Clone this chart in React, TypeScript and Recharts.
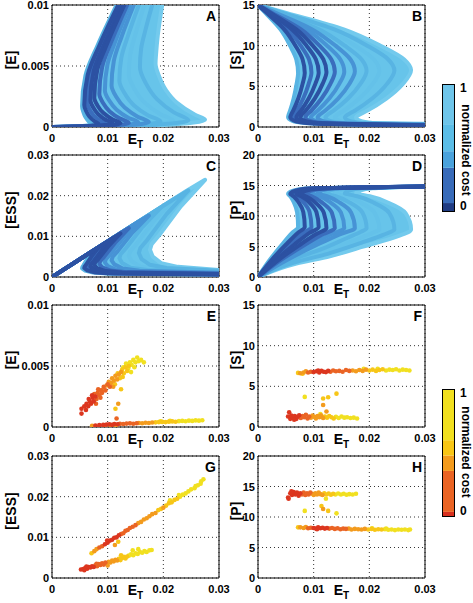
import React from 'react';
import { ScatterChart, Scatter, XAxis, YAxis, CartesianGrid, ReferenceArea, Label, BarChart, Bar, Curve } from 'recharts';

type Pt = [number, number];

const FONT = '"Liberation Sans", Arial, Helvetica, sans-serif';

// ---------- ticks ----------
const xTicks = [0, 0.01, 0.02, 0.03];
const yTicksA = [0, 0.005, 0.01];
const yTicksB = [0, 5, 10, 15];
const yTicksC = [0, 0.01, 0.02, 0.03];
const yTicksD = [0, 5, 10, 15, 20];

// ---------- colours ----------
const blueShades = ['#2c51a2', '#3a6dbd', '#4793d5', '#58b4e3', '#64c1e9', '#73caed'];
const curveShade = [3, 0, 1, 0, 0, 1, 2, 2, 3, 4, 3, 5];
const envelopeBlue = '#67c4ea';
const warmShades = ['#dc361f', '#ea6424', '#f39b1d', '#f7c617', '#f1e020'];
const blueBarSegments = [0.07, 0.275, 0.13, 0.205, 0.32];
const blueBarColors = ['#1f3b82', '#386bb9', '#4aa2dc', '#5bbde7', '#6ec5ea'];
const warmBarSegments = [0.04, 0.32, 0.12, 0.12, 0.4];
const warmBarColors = ['#d8301f', '#ea6424', '#f39b1d', '#f8c616', '#f1e020'];

// ---------- panel A: [E] vs ET ----------
const envelopeA: Pt[] = [[.0116,.01],[.0082,.0067],[.006,.0042],[.0054,.0017],[.00562,.00125],[.00603,.0008],[.00666,.00043],[.0072,.0002],[.005,.00007],[0,0],[.0193,.00014],[.0275,.0006],[.0257,.001],[.0224,.002],[.0205,.003],[.0192,.0042],[.0186,.0052],[.0187,.006],[.019,.0075],[.0198,.01]];
const curvesA: Pt[][] = [
  [[0,0],[.005,.00007],[.0072,.0002],[.00666,.00043],[.00603,.0008],[.00562,.00125],[.0054,.0017],[.006,.0042],[.0082,.0067],[.0116,.01]],
  [[0,0],[.0059,.00007],[.0084,.00023],[.00762,.00047],[.00671,.00086],[.00611,.00133],[.0058,.0018],[.00641,.00426],[.00855,.00672],[.0119,.01]],
  [[0,0],[.0067,.00007],[.0096,.00025],[.00861,.00051],[.00746,.00095],[.0067,.00148],[.0063,.002],[.00689,.0044],[.00896,.0068],[.0122,.01]],
  [[0,0],[.0076,.00008],[.0109,.00028],[.0097,.00057],[.0083,.00105],[.00738,.00162],[.0069,.0022],[.00747,.00454],[.00947,.00688],[.0126,.01]],
  [[0,0],[.0086,.00008],[.0123,.0003],[.01089,.00062],[.00925,.00114],[.00816,.00177],[.0076,.0024],[.00814,.00468],[.01003,.00696],[.013,.01]],
  [[0,0],[.0097,.00009],[.0138,.00033],[.01221,.00069],[.01036,.00128],[.00914,.00199],[.0085,.0027],[.009,.00489],[.01075,.00708],[.0135,.01]],
  [[0,0],[.0109,.0001],[.0155,.00037],[.0137,.00076],[.0116,.00142],[.01022,.00221],[.0095,.003],[.00995,.0051],[.01153,.0072],[.014,.01]],
  [[0,0],[.0122,.0001],[.0174,.0004],[.01539,.00085],[.01305,.0016],[.0115,.0025],[.0107,.0034],[.0111,.0054],[.0125,.0074],[.0147,.01]],
  [[0,0],[.0137,.00011],[.0195,.00045],[.01728,.00095],[.01469,.00179],[.01299,.0028],[.0121,.0038],[.01245,.00566],[.01368,.00752],[.0156,.01]],
  [[0,0],[.0153,.00012],[.0218,.0005],[.0194,.00107],[.0166,.00202],[.01476,.00316],[.0138,.0043],[.01408,.006],[.01506,.00772],[.0166,.01]],
  [[0,0],[.0172,.00013],[.0245,.00055],[.02189,.0012],[.01885,.00229],[.01684,.0036],[.0158,.0049],[.01602,.00643],[.01679,.00796],[.018,.01]],
  [[0,0],[.0193,.00014],[.0275,.0006],[.0257,.001],[.0224,.002],[.0205,.003],[.0192,.0042],[.0186,.0052],[.0187,.006],[.019,.0075],[.0198,.01]],
];

// ---------- panel B: [S] vs ET ----------
const envelopeB: Pt[] = [[0,15],[.00523,14],[.0154,12],[.022,10],[.02626,8.3],[.0275,7],[.02602,5.3],[.02305,3.5],[.01958,2],[.0179,1.4],[.0176,1.2],[.0184,.75],[.0206,.5],[.03,.4],[.03,.15],[.0084,.5],[.0062,.75],[.0054,1.2],[.00545,1.4],[.00576,2],[.0064,3.5],[.00693,5.3],[.0072,6.6],[.00688,8.3],[.00576,10],[.00403,12],[.00137,14]];
const curvesB: Pt[][] = [
  [[0,15],[.00137,14],[.00403,12],[.00576,10],[.00688,8.3],[.0072,6.6],[.00693,5.3],[.0064,3.5],[.00576,2],[.00545,1.4],[.0054,1.2],[.0062,.75],[.0084,.5],[.03,.15]],
  [[0,15],[.0016,14],[.0047,12],[.00672,10],[.00802,8.3],[.0084,6.65],[.00801,5.3],[.00723,3.5],[.00632,2],[.00588,1.4],[.0058,1.2],[.0066,.75],[.0088,.5],[.03,.17]],
  [[0,15],[.00182,14],[.00538,12],[.00768,10],[.00917,8.3],[.0096,6.7],[.0091,5.3],[.00812,3.5],[.00696,2],[.0064,1.4],[.0063,1.2],[.0071,.75],[.0093,.5],[.03,.19]],
  [[0,15],[.00207,14],[.0061,12],[.00872,10],[.01041,8.3],[.0109,6.7],[.0103,5.3],[.0091,3.5],[.0077,2],[.00702,1.4],[.0069,1.2],[.0077,.75],[.0099,.5],[.03,.21]],
  [[0,15],[.00234,14],[.00689,12],[.00984,10],[.01175,8.3],[.0123,6.75],[.0116,5.3],[.01019,3.5],[.00854,2],[.00774,1.4],[.0076,1.2],[.0084,.75],[.0106,.5],[.03,.23]],
  [[0,15],[.00262,14],[.00773,12],[.01104,10],[.01318,8.3],[.0138,6.8],[.013,5.3],[.01142,3.5],[.00956,2],[.00866,1.4],[.0085,1.2],[.0093,.75],[.0115,.5],[.03,.25]],
  [[0,15],[.00295,14],[.00868,12],[.0124,10],[.0148,8.3],[.0155,6.8],[.0146,5.3],[.0128,3.5],[.0107,2],[.00968,1.4],[.0095,1.2],[.0103,.75],[.0125,.5],[.03,.27]],
  [[0,15],[.00331,14],[.00974,12],[.01392,10],[.01662,8.3],[.0174,6.85],[.0164,5.3],[.01439,3.5],[.01204,2],[.0109,1.4],[.0107,1.2],[.0115,.75],[.0137,.5],[.03,.29]],
  [[0,15],[.00371,14],[.01092,12],[.0156,10],[.01862,8.3],[.0195,6.9],[.01839,5.3],[.01617,3.5],[.01358,2],[.01232,1.4],[.0121,1.2],[.0129,.75],[.0151,.5],[.03,.32]],
  [[0,15],[.00414,14],[.01221,12],[.01744,10],[.02082,8.3],[.0218,6.9],[.0206,5.3],[.0182,3.5],[.0154,2],[.01404,1.4],[.0138,1.2],[.0146,.75],[.0168,.5],[.03,.35]],
  [[0,15],[.00466,14],[.01372,12],[.0196,10],[.0234,8.3],[.0245,6.95],[.02317,5.3],[.0205,3.5],[.01738,2],[.01587,1.4],[.0156,1.2],[.0164,.75],[.0186,.5],[.03,.38]],
  [[0,15],[.00523,14],[.0154,12],[.022,10],[.02626,8.3],[.0275,7],[.02602,5.3],[.02305,3.5],[.01958,2],[.0179,1.4],[.0176,1.2],[.0184,.75],[.0206,.5],[.03,.4]],
];

// ---------- panel C: [ESS] vs ET ----------
const envelopeC: Pt[] = [[0,0],[.0242,.0212],[.0275,.0239],[.02314,.01736],[.01918,.01014],[.0179,.00808],[.0176,.0067],[.0181,.005],[.0196,.0034],[.0226,.0025],[.03,.0017],[.03,.00055],[.0104,.0008],[.0074,.0011],[.0059,.0016],[.0054,.0021],[.00545,.00244],[.00569,.00294],[.0064,.0047],[.0072,.0063]];
const curvesC: Pt[][] = [
  [[0,0],[.00634,.00554],[.0072,.0063],[.0064,.0047],[.00569,.00294],[.00545,.00244],[.0054,.0021],[.0059,.0016],[.0074,.0011],[.0104,.0008],[.03,.00055]],
  [[0,0],[.0074,.00647],[.0084,.0073],[.00726,.00536],[.00622,.00322],[.00588,.00261],[.0058,.0022],[.0063,.00165],[.0078,.0011],[.0108,.00084],[.03,.0006]],
  [[0,0],[.00845,.00739],[.0096,.0084],[.00815,.00612],[.00683,.0036],[.0064,.00288],[.0063,.0024],[.0068,.0018],[.0083,.0012],[.0113,.00091],[.03,.00062]],
  [[0,0],[.0096,.0084],[.0109,.0095],[.00914,.00688],[.00754,.00398],[.00702,.00315],[.0069,.0026],[.0074,.00195],[.0089,.0013],[.0119,.00099],[.03,.00068]],
  [[0,0],[.01082,.00947],[.0123,.0107],[.01023,.00774],[.00835,.00446],[.00774,.00352],[.0076,.0029],[.0081,.0022],[.0096,.00145],[.0126,.0011],[.03,.00075]],
  [[0,0],[.01214,.01062],[.0138,.012],[.01147,.00866],[.00935,.00496],[.00866,.0039],[.0085,.0032],[.009,.0024],[.0105,.0016],[.0135,.0012],[.03,.00083]],
  [[0,0],[.01364,.01194],[.0155,.0135],[.01286,.00974],[.01046,.00558],[.00968,.00439],[.0095,.0036],[.01,.0027],[.0115,.0018],[.0145,.00137],[.03,.00094]],
  [[0,0],[.01531,.0134],[.0174,.0151],[.01445,.01092],[.01177,.0063],[.0109,.00498],[.0107,.0041],[.0112,.0031],[.0127,.0021],[.0157,.00156],[.03,.00107]],
  [[0,0],[.01716,.015],[.0195,.017],[.01624,.01229],[.01328,.00708],[.01232,.00559],[.0121,.0046],[.0126,.00345],[.0141,.0023],[.0171,.00175],[.03,.0012]],
  [[0,0],[.01918,.01678],[.0218,.019],[.01828,.01376],[.01508,.00796],[.01404,.0063],[.0138,.0052],[.0143,.0039],[.0158,.0026],[.0188,.002],[.03,.00135]],
  [[0,0],[.02156,.01887],[.0245,.0213],[.02058,.01545],[.01702,.00898],[.01587,.00713],[.0156,.0059],[.0161,.0044],[.0176,.003],[.0206,.0022],[.03,.00153]],
  [[0,0],[.0242,.0212],[.0275,.0239],[.02314,.01736],[.01918,.01014],[.0179,.00808],[.0176,.0067],[.0181,.005],[.0196,.0034],[.0226,.0025],[.03,.0017]],
];

// ---------- panel D: [P] vs ET ----------
const envelopeD: Pt[] = [[0,0],[.0069,2.2],[.0129,3.4],[.0189,5],[.0249,6.6],[.0275,7.8],[.02651,10.46],[.02354,12.11],[.02008,13.23],[.01819,13.58],[.0176,13.7],[.0184,14.2],[.0206,14.55],[.03,14.85],[.0084,14.5],[.0062,14.1],[.0054,13.6],[.00551,13.49],[.00585,13.17],[.00648,12.14],[.00702,10.63],[.0072,8.2],[.00612,7.22],[.00432,5.33],[.00216,2.87]];
const curvesD: Pt[][] = [
  [[0,0],[.00216,2.87],[.00432,5.33],[.00612,7.22],[.0072,8.2],[.00702,10.63],[.00648,12.14],[.00585,13.17],[.00551,13.49],[.0054,13.6],[.0062,14.1],[.0084,14.5],[.03,14.85]],
  [[0,0],[.00252,2.87],[.00504,5.33],[.00714,7.22],[.0084,8.2],[.00814,10.63],[.00736,12.14],[.00645,13.17],[.00596,13.49],[.0058,13.6],[.0066,14.1],[.0088,14.5],[.03,14.85]],
  [[0,0],[.00288,2.87],[.00576,5.33],[.00816,7.22],[.0096,8.2],[.00927,10.63],[.00828,12.14],[.00713,13.17],[.0065,13.49],[.0063,13.6],[.0071,14.1],[.0093,14.5],[.03,14.85]],
  [[0,0],[.00327,2.87],[.00654,5.33],[.00927,7.22],[.0109,8.2],[.0105,10.63],[.0093,12.14],[.0079,13.17],[.00714,13.49],[.0069,13.6],[.0077,14.1],[.0099,14.5],[.03,14.85]],
  [[0,0],[.00369,2.8],[.00738,5.2],[.01046,7.04],[.0123,8],[.01183,10.52],[.01042,12.09],[.00878,13.15],[.00788,13.49],[.0076,13.6],[.0084,14.1],[.0106,14.5],[.03,14.85]],
  [[0,0],[.00414,2.8],[.00828,5.2],[.01173,7.04],[.0138,8],[.01327,10.52],[.01168,12.09],[.00983,13.15],[.00882,13.49],[.0085,13.6],[.0093,14.1],[.0115,14.5],[.03,14.85]],
  [[0,0],[.00465,2.8],[.0093,5.2],[.01318,7.04],[.0155,8],[.0149,10.57],[.0131,12.16],[.011,13.24],[.00986,13.59],[.0095,13.7],[.0103,14.2],[.0125,14.55],[.03,14.85]],
  [[0,0],[.00522,2.8],[.01044,5.2],[.01479,7.04],[.0174,8],[.01673,10.57],[.01472,12.16],[.01238,13.24],[.0111,13.59],[.0107,13.7],[.0115,14.2],[.0137,14.55],[.03,14.85]],
  [[0,0],[.0058,2.75],[.0115,4.6],[.016,6.4],[.0185,7.4],[.0195,8],[.01876,10.57],[.01654,12.16],[.01395,13.24],[.01254,13.59],[.0121,13.7],[.0129,14.2],[.0151,14.55],[.03,14.85]],
  [[0,0],[.0062,2.6],[.0122,4.2],[.0172,6],[.0205,7.2],[.0218,7.8],[.021,10.46],[.0186,12.11],[.0158,13.23],[.01428,13.58],[.0138,13.7],[.0146,14.2],[.0168,14.55],[.03,14.85]],
  [[0,0],[.0066,2.4],[.0125,3.8],[.0185,5.6],[.0225,6.9],[.0245,7.8],[.02361,10.46],[.02094,12.11],[.01783,13.23],[.01613,13.58],[.0156,13.7],[.0164,14.2],[.0186,14.55],[.03,14.85]],
  [[0,0],[.0069,2.2],[.0129,3.4],[.0189,5],[.0249,6.6],[.0275,7.8],[.02651,10.46],[.02354,12.11],[.02008,13.23],[.01819,13.58],[.0176,13.7],[.0184,14.2],[.0206,14.55],[.03,14.85]],
];

// ---------- panels E-H: bifurcation points, grouped by cost colour (red -> yellow) ----------
const dotsE: Pt[][] = [
  [[.0053,.0015],[.0058,.0017],[.0062,.0019],[.0065,.0017],[.0068,.0021],[.007,.0019],[.0066,.0023],[.0073,.0024],[.0075,.0021],[.0061,.0014],[.0078,.0025],[.0072,.0026],[.0053,.0011],
   [.0078,.00012],[.0085,.00015],[.0092,.00018],[.0098,.0002],[.0103,.00022],[.0108,.00018],[.0112,.00024],[.0118,.00022]],
  [[.0076,.0027],[.008,.0023],[.0082,.0028],[.0085,.0026],[.0088,.003],[.0083,.0031],[.009,.0028],[.0093,.0033],[.0087,.0024],[.0096,.003],[.01,.0035],[.0104,.0033],[.0079,.0019],[.0116,.0007],
   [.0095,.00012],[.0122,.00026],[.0128,.00024],[.0134,.00028],[.014,.0003],[.0146,.00027],[.0152,.00031]],
  [[.0092,.0031],[.0098,.0034],[.0102,.0037],[.0106,.0036],[.0108,.004],[.0111,.0038],[.0114,.0042],[.0117,.0039],[.012,.0043],[.011,.0033],[.0124,.0045],[.0119,.0019],
   [.0072,.0001],[.0105,.00014],[.0156,.00033],[.0162,.00031],[.0168,.00035],[.0174,.00033],[.018,.00037],[.0115,.00016]],
  [[.0113,.0035],[.0118,.0044],[.0122,.004],[.0126,.0047],[.0129,.0044],[.0132,.0049],[.0135,.0046],[.0127,.0041],[.0138,.005],[.0124,.0031],[.0114,.0015],
   [.0186,.00038],[.0192,.0004],[.0198,.00042],[.0204,.0004],[.021,.00044],[.0216,.00046],[.0222,.00043]],
  [[.0128,.0049],[.0133,.0052],[.0137,.0048],[.014,.0053],[.0143,.0051],[.0146,.0055],[.015,.0053],[.0153,.0057],[.0156,.0054],[.016,.0055],[.0165,.0053],[.0148,.0049],[.0142,.0045],
   [.0228,.00048],[.0234,.0005],[.024,.00047],[.0246,.00052],[.0252,.0005],[.0258,.00054],[.0264,.00052],[.027,.00055],[.0212,.0005],[.0195,.00047]],
];
const dotsF: Pt[][] = [
  [[.01,6.75],[.0105,6.85],[.011,6.7],[.0114,6.9],[.0118,6.8],[.0122,6.75],[.0126,6.9],[.0108,6.95],
   [.0054,1.3],[.0058,1],[.006,1.4],[.0063,1.15],[.0066,1.35],[.0069,1],[.0071,1.25],[.0074,1.45],[.0056,1.8],[.0065,.9]],
  [[.009,6.7],[.0095,6.8],[.013,6.8],[.0135,6.95],[.014,6.85],[.0146,6.9],[.0152,6.8],[.0158,7],[.0164,6.9],
   [.0077,1.1],[.008,1.35],[.0083,1.2],[.0086,1.5],[.0089,1.05],[.0092,1.3]],
  [[.0076,6.6],[.0082,6.7],[.0086,6.85],[.017,6.95],[.0176,6.85],[.0182,7],[.0188,6.9],[.0194,7.05],
   [.0095,1.15],[.0098,1.4],[.0101,1.25],[.0104,1.05],[.0107,1.35],[.011,1.2],[.0113,1.45],[.0117,1.1],[.0123,1.9],[.0117,2.7]],
  [[.0072,6.65],[.008,6.55],[.02,6.95],[.0206,7.05],[.0212,6.9],[.0218,7],[.0224,7.1],
   [.012,1.3],[.0124,1.15],[.0128,1.35],[.0132,1.2],[.0136,1.05],[.0126,3.65],[.0117,3.5],[.0141,4.1]],
  [[.023,6.95],[.0236,7.05],[.0242,7],[.0248,7.1],[.0254,6.95],[.026,7.05],[.0266,7],[.0272,6.95],[.0215,7.15],[.019,7.15],
   [.014,1.25],[.0145,1.1],[.015,1.3],[.0155,1.15],[.016,1.2],[.0166,1.1],[.0172,1.15],[.0178,1.05],[.0084,3.7],[.0112,1.6]],
];
const dotsG: Pt[][] = [
  [[.0095,.0083],[.01,.0087],[.0104,.0092],[.0108,.0094],[.0112,.0099],[.0116,.01],[.0099,.0092],[.012,.0105],
   [.0052,.0021],[.0056,.0022],[.006,.0025],[.0063,.0023],[.0066,.0027],[.0069,.0026],[.0072,.0029],[.0075,.0027],[.0062,.0028],[.0058,.0019]],
  [[.0085,.0075],[.009,.0078],[.0124,.0108],[.0128,.011],[.0132,.0116],[.0136,.0118],[.014,.0123],[.0145,.0126],[.015,.013],
   [.0078,.0031],[.0081,.0029],[.0084,.0034],[.0087,.0032],[.009,.0036],[.0093,.0033],[.0096,.0038],[.008,.0035]],
  [[.0076,.0066],[.008,.0071],[.0155,.0135],[.016,.0138],[.0165,.0144],[.017,.0147],[.0175,.0152],[.018,.0157],[.0186,.016],[.02,.0173],
   [.0099,.0036],[.0102,.004],[.0105,.0038],[.0108,.0043],[.0111,.0041],[.0114,.0045],[.01,.0031],[.0117,.0043],[.0113,.0081]],
  [[.0071,.0061],[.0191,.0167],[.0196,.017],[.0205,.0178],[.021,.0184],[.0215,.0186],[.022,.0192],[.0225,.0195],
   [.012,.0047],[.0123,.0044],[.0126,.0049],[.0129,.0052],[.0132,.0048],[.0135,.0053],[.0124,.0056],[.0119,.0089]],
  [[.023,.02],[.0235,.0205],[.024,.0208],[.0245,.0213],[.025,.0218],[.0256,.0221],[.0262,.0228],[.0267,.0232],[.0272,.0243],[.0268,.0238],[.0258,.0226],[.0228,.0204],[.0212,.0191],
   [.0138,.0055],[.0142,.0058],[.0146,.0056],[.015,.0061],[.0154,.0059],[.0158,.0064],[.0162,.0062],[.0166,.0066],[.017,.0064],[.0175,.0068],[.0179,.0069],[.0145,.0068],[.0155,.0071]],
];
const dotsH: Pt[][] = [
  [[.0054,13.2],[.0058,13.9],[.0061,13.6],[.0064,14.1],[.0067,13.7],[.007,14],[.0073,13.5],[.0076,13.9],[.006,14.2],[.0055,13],
   [.01,8.2],[.0104,8.1],[.0108,8.3],[.0112,8.15],[.0116,8.25],[.012,8.1],[.0124,8.2],[.0106,8]],
  [[.0079,13.7],[.0082,14],[.0085,13.6],[.0088,13.9],[.0091,13.7],[.0094,14],
   [.009,8.15],[.0095,8.25],[.0128,8.1],[.0133,8.2],[.0138,8.05],[.0143,8.15],[.0148,8],[.0153,8.1],[.0158,8.05]],
  [[.0097,13.8],[.01,13.6],[.0103,13.9],[.0106,13.7],[.0109,14],[.0112,13.75],[.0116,13.6],[.0117,11.3],
   [.0076,8.3],[.0082,8.2],[.0086,8.35],[.0163,8.1],[.0168,7.95],[.0174,8.05],[.018,8],[.0186,7.95],[.0192,8.05]],
  [[.0119,13.9],[.0123,13.7],[.0127,13.85],[.0131,13.65],[.0135,13.8],[.0114,11.8],[.0126,11],
   [.0072,8.3],[.0198,7.95],[.0204,8.05],[.021,7.9],[.0216,8],[.0222,7.95]],
  [[.0139,13.7],[.0144,13.85],[.0149,13.7],[.0154,13.8],[.0159,13.65],[.0164,13.75],[.017,13.7],[.0176,13.8],[.0084,11],[.0141,10.6],[.0122,13],
   [.0228,8],[.0234,7.9],[.024,7.95],[.0246,7.85],[.0252,7.95],[.0258,7.9],[.0264,7.95],[.027,7.85],[.0273,7.95],[.0205,8.15],[.023,8.1]],
];

// ---------- rendering helpers ----------
const toXY = (pts: Pt[]) => pts.map(([x, y]) => ({ x, y }));
const noDot = () => <g />;
const pathFrom = (pts: any[], close: boolean) =>
  pts.map((q, i) => `${i ? 'L' : 'M'}${Number(q.x).toFixed(2)},${Number(q.y).toFixed(2)}`).join('') + (close ? 'Z' : '');
const strokeLine = (color: string, width: number, kind: string) => (lp: any) => (
  <Curve type={kind as any} points={lp.points || []} fill="none" stroke={color} strokeWidth={width} strokeLinejoin="round" strokeLinecap="round" />
);
const fillArea = (color: string) => (lp: any) => (
  <path d={pathFrom(lp.points || [], true)} fill={color} stroke={color} strokeWidth={1} />
);
const dotShape = (color: string) => (sp: any) => <circle cx={sp.cx} cy={sp.cy} r={2.3} fill={color} />;

const XTick = (p: any) => (
  <text x={p.x} y={p.y + 14.5} textAnchor="middle" fontSize={11} fontWeight="bold" fontFamily={FONT} fill="#000">
    {String(p.payload.value)}
  </text>
);
const YTick = (p: any) => (
  <text x={p.x - 3} y={p.y + 4} textAnchor="end" fontSize={11} fontWeight="bold" fontFamily={FONT} fill="#000">
    {String(p.payload.value)}
  </text>
);
const etLabel = (lp: any) => {
  const vb = lp.viewBox || { x: 52, y: 128, width: 167, height: 28 };
  return (
    <text x={vb.x + vb.width / 2} y={vb.y + 17} textAnchor="middle" fontSize={14} fontWeight="bold" fontFamily={FONT} fill="#000">
      E<tspan fontSize={10} dy={4}>T</tspan>
    </text>
  );
};
const yAxisLabel = (text: string, dx: number) => (lp: any) => {
  const vb = lp.viewBox || { x: 0, y: 6, width: 52, height: 122 };
  const cx = vb.x + dx;
  const cy = vb.y + vb.height / 2 - 6;
  return (
    <text x={cx} y={cy} transform={`rotate(-90 ${cx} ${cy})`} textAnchor="middle" dominantBaseline="central" fontSize={14} fontWeight="bold" fontFamily={FONT} fill="#000">
      {text}
    </text>
  );
};
const letterLabel = (letter: string) => (lp: any) => {
  const vb = lp.viewBox || { x: 52, y: 6, width: 167, height: 122 };
  return (
    <text x={vb.x + vb.width - 3} y={vb.y + 16} textAnchor="end" fontSize={14} fontWeight="bold" fontFamily={FONT} fill="#000">
      {letter}
    </text>
  );
};

type PanelProps = { left: number; top: number; yMax: number; yTicks: number[]; letter: string; yLabel: string; labelDx: number; children: React.ReactNode };

function Panel({ left, top, yMax, yTicks, letter, yLabel, labelDx, children }: PanelProps) {
  return (
    <div style={{ position: 'absolute', left, top, width: 235, height: 156 }}>
      <ScatterChart width={235} height={156} margin={{ top: 6, right: 16, bottom: 0, left: 0 }}>
        <CartesianGrid stroke="#333" strokeDasharray="1 3" />
        <XAxis type="number" dataKey="x" domain={[0, 0.03]} ticks={xTicks} interval={0} allowDataOverflow height={28}
          tickSize={0} tickMargin={0} axisLine={false} tickLine={false} tick={XTick}>
          <Label content={etLabel} />
        </XAxis>
        <YAxis type="number" dataKey="y" domain={[0, yMax]} ticks={yTicks} interval={0} allowDataOverflow width={52}
          tickSize={0} tickMargin={0} axisLine={false} tickLine={false} tick={YTick}>
          <Label content={yAxisLabel(yLabel, labelDx)} />
        </YAxis>
        {children}
        <ReferenceArea x1={0} x2={0.03} y1={0} y2={yMax} fill="none" fillOpacity={0} stroke="#000" strokeWidth={1}
          ifOverflow="visible" label={letterLabel(letter)} />
      </ScatterChart>
    </div>
  );
}

const blueChildren = (env: Pt[], curves: Pt[][], kind: string) => {
  const order = curves.map((_, i) => i).sort((a, b) => curveShade[b] - curveShade[a]);
  return [
    <Scatter key="env" data={toXY(env)} line={fillArea(envelopeBlue)} shape={noDot} isAnimationActive={false} />,
    ...order.map((i) => (
      <Scatter key={`c${i}`} data={toXY(curves[i])} line={strokeLine(blueShades[curveShade[i]], 4, kind)} shape={noDot} isAnimationActive={false} />
    )),
  ];
};

const warmChildren = (groups: Pt[][]) =>
  groups
    .map((g, i) => (
      <Scatter key={`g${i}`} data={toXY(g)} shape={dotShape(warmShades[i])} isAnimationActive={false} />
    ))
    .reverse();

const CbTick = (p: any) => (
  <text x={p.x + 5} y={p.payload.value === 1 ? p.y + 8 : p.y - 2} textAnchor="start" fontSize={12} fontWeight="bold" fontFamily={FONT} fill="#000">
    {String(p.payload.value)}
  </text>
);
const cbLabel = (shift: number) => (lp: any) => {
  const vb = lp.viewBox || { x: 13, y: 6, width: 27, height: 128 };
  const cx = vb.x + 11;
  const cy = vb.y + vb.height / 2 + shift;
  return (
    <text x={cx} y={cy} transform={`rotate(90 ${cx} ${cy})`} textAnchor="middle" dominantBaseline="central" fontSize={12} fontWeight="bold" fontFamily={FONT} fill="#000">
      normalized cost
    </text>
  );
};

function ColorBar({ left, top, segments, colors, shift }: { left: number; top: number; segments: number[]; colors: string[]; shift: number }) {
  const row: Record<string, any> = { name: 'cb' };
  segments.forEach((v, i) => { row[`s${i}`] = v; });
  return (
    <div style={{ position: 'absolute', left, top, width: 40, height: 140 }}>
      <BarChart width={40} height={140} data={[row]} margin={{ top: 6, right: 0, bottom: 6, left: 0 }} barCategoryGap={0} barGap={0}>
        <XAxis dataKey="name" hide />
        <YAxis orientation="right" type="number" width={27} domain={[0, 1]} ticks={[0, 1]} interval={0}
          axisLine={false} tickLine={false} tickSize={0} tickMargin={0} tick={CbTick}>
          <Label content={cbLabel(shift)} />
        </YAxis>
        {segments.map((_, i) => (
          <Bar key={i} dataKey={`s${i}`} stackId="cb" fill={colors[i]} isAnimationActive={false} />
        ))}
      </BarChart>
      <div style={{ position: 'absolute', left: 0, top: 6, width: 13, height: 128, border: '1px solid #000', boxSizing: 'border-box' }} />
    </div>
  );
}

export default function App() {
  return (
    <div style={{ position: 'absolute', left: 0, top: 0, width: 473, height: 603, overflow: 'hidden', background: '#fff', fontFamily: FONT }}>
      <Panel left={0} top={-1} yMax={0.01} yTicks={yTicksA} letter="A" yLabel="[E]" labelDx={11}>{blueChildren(envelopeA, curvesA, 'monotoneY')}</Panel>
      <Panel left={206} top={-1} yMax={15} yTicks={yTicksB} letter="B" yLabel="[S]" labelDx={30}>{blueChildren(envelopeB, curvesB, 'monotoneY')}</Panel>
      <Panel left={0} top={149} yMax={0.03} yTicks={yTicksC} letter="C" yLabel="[ESS]" labelDx={11}>{blueChildren(envelopeC, curvesC, 'linear')}</Panel>
      <Panel left={206} top={149} yMax={20} yTicks={yTicksD} letter="D" yLabel="[P]" labelDx={30}>{blueChildren(envelopeD, curvesD, 'monotoneY')}</Panel>
      <Panel left={0} top={299} yMax={0.01} yTicks={yTicksA} letter="E" yLabel="[E]" labelDx={11}>{warmChildren(dotsE)}</Panel>
      <Panel left={206} top={299} yMax={15} yTicks={yTicksB} letter="F" yLabel="[S]" labelDx={30}>{warmChildren(dotsF)}</Panel>
      <Panel left={0} top={450} yMax={0.03} yTicks={yTicksC} letter="G" yLabel="[ESS]" labelDx={11}>{warmChildren(dotsG)}</Panel>
      <Panel left={206} top={450} yMax={20} yTicks={yTicksD} letter="H" yLabel="[P]" labelDx={30}>{warmChildren(dotsH)}</Panel>
      <ColorBar left={442} top={78} segments={blueBarSegments} colors={blueBarColors} shift={2} />
      <ColorBar left={442} top={383} segments={warmBarSegments} colors={warmBarColors} shift={-1} />
    </div>
  );
}
